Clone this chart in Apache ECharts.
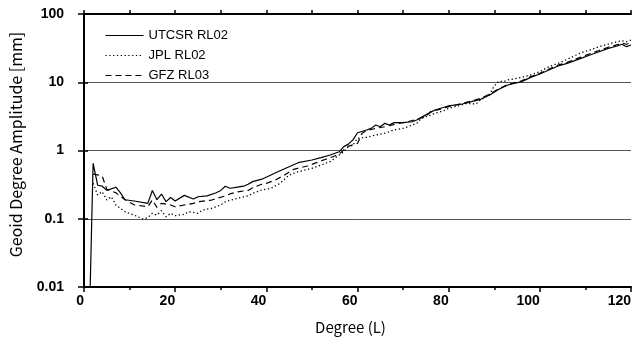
<!DOCTYPE html>
<html>
<head>
<meta charset="utf-8">
<script src="https://cdn.jsdelivr.net/npm/echarts@6/dist/echarts.min.js"></script>
<style>
  html, body { margin: 0; padding: 0; background: #fff; }
  #main { width: 637px; height: 347px; }
</style>
</head>
<body>
<div id="main"></div>
<script>
// degree / amplitude [mm]
var csrDeg = [1, 2, 3, 4, 5, 7, 8, 9, 11, 14, 15, 16, 17, 18, 19, 20, 22, 24, 25, 27, 29, 30, 31, 32, 33, 35, 36, 37, 39,
  41, 43, 45, 47, 50, 52, 54, 56, 57, 58, 59, 60, 62, 63, 64, 65, 66, 67, 68, 70, 72, 73, 74, 76, 77, 79, 80,
  83, 85, 87, 89, 91, 93, 96, 98, 100, 102, 104, 106, 109, 111, 113, 115, 117, 118, 119, 120];
var csrAmp = [0.001, 0.65, 0.31, 0.30, 0.26, 0.29, 0.24, 0.19, 0.182, 0.168, 0.26, 0.19, 0.23, 0.178, 0.205, 0.182, 0.22, 0.195, 0.21, 0.216, 0.24, 0.26, 0.30, 0.28, 0.285, 0.30, 0.32, 0.35, 0.38,
  0.437, 0.506, 0.579, 0.663, 0.726, 0.785, 0.859, 0.96, 1.14, 1.24, 1.43, 1.82, 2.0, 2.11, 2.36, 2.23, 2.50, 2.36, 2.56, 2.56, 2.64, 2.80, 3.06, 3.62, 3.92, 4.3, 4.5,
  4.80, 5.19, 5.62, 6.50, 7.88, 9.12, 10.2, 11.8, 13.2, 15.1, 17.3, 18.9, 22.4, 25.1, 28.0, 31.4, 34.0, 36.0, 33.2, 35.1];

var jplDeg = [2, 3, 4, 5, 6, 7, 8, 9, 11, 13, 14, 15, 16, 17, 18, 19, 20, 22, 23, 25, 26, 28, 30, 31, 33, 35, 36, 37, 39,
  41, 43, 45, 47, 50, 52, 54, 56, 57, 58, 59, 60, 62, 64, 66, 68, 70, 73, 74, 76, 77, 79, 80,
  82, 84, 86, 87, 89, 90, 91, 92, 93, 96, 98, 100, 102, 104, 106, 108, 109, 111, 113, 115, 117, 118, 119, 120];
var jplAmp = [0.33, 0.223, 0.249, 0.188, 0.21, 0.159, 0.142, 0.127, 0.113, 0.099, 0.104, 0.120, 0.113, 0.131, 0.107, 0.120, 0.111, 0.116, 0.127, 0.120, 0.134, 0.142, 0.159, 0.178, 0.193, 0.21, 0.216, 0.236, 0.264,
  0.279, 0.33, 0.437, 0.49, 0.548, 0.613, 0.686, 0.859, 0.96, 1.14, 1.20, 1.51, 1.56, 1.69, 1.79, 2.0, 2.11, 2.50, 2.96, 3.31, 3.51, 3.84, 4.15,
  4.5, 4.91, 4.80, 5.5, 6.65, 8.81, 10.4, 10.2, 10.8, 11.8, 12.8, 14.3, 16.9, 18.9, 21.7, 25.1, 27.1, 29.7, 33.2, 36.3, 39.3, 40.6, 39.3, 41.6];

var gfzDeg = [2, 3, 4, 5, 6, 7, 9, 11, 14, 15, 16, 17, 19, 20, 22, 24, 25, 28, 29, 31, 32, 34, 36, 37, 39, 40, 42, 44, 46, 49,
  51, 53, 55, 56, 57, 58, 60, 61, 62, 64, 66, 69, 71, 73, 75, 76, 78, 80,
  83, 85, 87, 89, 91, 93, 96, 98, 100, 102, 104, 106, 109, 111, 113, 115, 117, 118, 119, 120];
var gfzAmp = [0.45, 0.44, 0.42, 0.27, 0.255, 0.24, 0.19, 0.16, 0.15, 0.188, 0.147, 0.168, 0.159, 0.15, 0.159, 0.168, 0.178, 0.188, 0.198, 0.216, 0.231, 0.25, 0.26, 0.285, 0.32, 0.33, 0.37, 0.437, 0.53, 0.593,
  0.663, 0.743, 0.83, 0.889, 1.02, 1.16, 1.27, 1.79, 1.95, 2.11, 2.23, 2.50, 2.64, 2.87, 3.13, 3.71, 4.01, 4.39,
  4.9, 5.3, 5.8, 6.7, 8.0, 9.3, 10.5, 12.1, 13.5, 15.6, 17.8, 19.6, 23.3, 26.2, 29.2, 32.6, 35.5, 37.5, 36.0, 38.0];

var seriesNames = ['UTCSR RL02', 'JPL RL02', 'GFZ RL03'];

function pairs(deg, amp) {
  return deg.map(function (d, i) { return [d, amp[i]]; });
}

var tickFont = { fontFamily: 'Liberation Sans, Arial, sans-serif', fontWeight: 'bold', fontSize: 14, color: '#000' };
var nameFont = { fontFamily: 'Noto Sans CJK JP, sans-serif', fontSize: 15, color: '#000' };
var blackLine = { lineStyle: { color: '#000', width: 2 } };

var chart = echarts.init(document.getElementById('main'));
chart.setOption({
  animation: false,
  backgroundColor: '#fff',
  grid: { left: 84, right: 6, top: 14, bottom: 60 },
  legend: {
    orient: 'vertical',
    left: 100,
    top: 24,
    itemWidth: 38,
    itemHeight: 12,
    itemGap: 7,
    data: seriesNames,
    itemStyle: { opacity: 0 },
    lineStyle: { width: 1 },
    textStyle: { fontFamily: 'Liberation Sans, Arial, sans-serif', fontSize: 13, color: '#000' }
  },
  xAxis: [{
    type: 'value', min: 0, max: 120, interval: 20,
    name: 'Degree (L)', nameLocation: 'middle', nameGap: 33,
    nameTextStyle: Object.assign({ padding: [0, 14, 0, 0] }, nameFont),
    axisLine: blackLine,
    axisTick: { length: 5, lineStyle: { color: '#000', width: 1.5 } },
    minorTick: { show: true, splitNumber: 2, length: 3, lineStyle: { color: '#000', width: 1.5 } },
    axisLabel: Object.assign({ align: 'right', margin: 7 }, tickFont),
    splitLine: { show: false }
  }, {
    type: 'value', min: 0, max: 120, interval: 10, position: 'top',
    axisLine: blackLine,
    axisTick: { length: 4, lineStyle: { color: '#000', width: 1.5 } },
    axisLabel: { show: false },
    splitLine: { show: false }
  }],
  yAxis: [{
    type: 'log', logBase: 10, min: 0.01, max: 100,
    name: 'Geoid Degree Amplitude [mm]', nameLocation: 'middle', nameGap: 60,
    nameTextStyle: Object.assign({}, nameFont, { fontSize: 16, padding: [0, 0, 0, 12] }),
    axisLine: blackLine,
    axisTick: { length: 6, lineStyle: { color: '#000', width: 1.5 } },
    axisLabel: Object.assign({ margin: 20, formatter: function (v) { return String(+v.toPrecision(2)); } }, tickFont),
    splitLine: { show: true, lineStyle: { color: '#555', width: 1 } }
  }, {
    type: 'log', logBase: 10, min: 0.01, max: 100, position: 'right',
    axisLine: blackLine,
    axisTick: { length: 4, lineStyle: { color: '#000', width: 1.5 } },
    axisLabel: { show: false },
    splitLine: { show: false }
  }],
  series: [{
    name: seriesNames[0], type: 'line', symbol: 'none', clip: true,
    data: pairs(csrDeg, csrAmp),
    lineStyle: { color: '#000', width: 1.2, type: 'solid' },
    itemStyle: { color: '#000' }
  }, {
    name: seriesNames[1], type: 'line', symbol: 'none', clip: true,
    data: pairs(jplDeg, jplAmp),
    lineStyle: { color: '#000', width: 1.3, type: [1.3, 2.5] },
    itemStyle: { color: '#000' }
  }, {
    name: seriesNames[2], type: 'line', symbol: 'none', clip: true,
    data: pairs(gfzDeg, gfzAmp),
    lineStyle: { color: '#000', width: 1.2, type: [6, 4] },
    itemStyle: { color: '#000' }
  }]
});
</script>
</body>
</html>
